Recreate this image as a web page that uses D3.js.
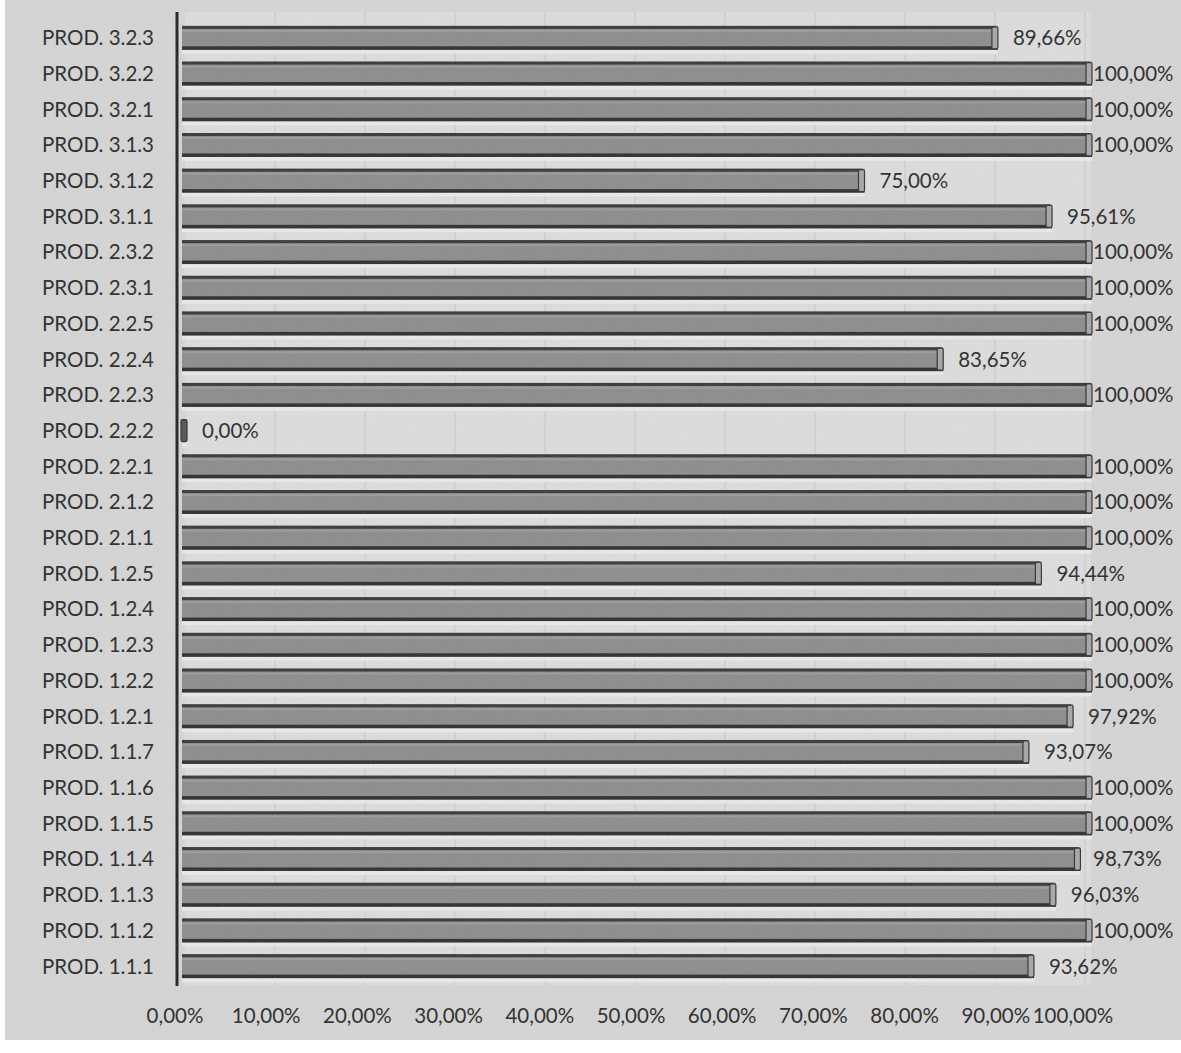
<!DOCTYPE html>
<html>
<head>
<meta charset="utf-8">
<script src="https://cdn.jsdelivr.net/npm/d3@7/dist/d3.min.js"></script>
<style>
  html, body { margin: 0; padding: 0; background: #ffffff; }
  svg { display: block; }
  text { font-family: Lato, "Open Sans", sans-serif; fill: #262626; }
</style>
</head>
<body>
<svg id="chart" width="1181" height="1053"></svg>
<script>
// ---- data (top of chart first) ----
const categories = [
  "PROD. 3.2.3", "PROD. 3.2.2", "PROD. 3.2.1", "PROD. 3.1.3", "PROD. 3.1.2", "PROD. 3.1.1",
  "PROD. 2.3.2", "PROD. 2.3.1", "PROD. 2.2.5", "PROD. 2.2.4", "PROD. 2.2.3", "PROD. 2.2.2",
  "PROD. 2.2.1", "PROD. 2.1.2", "PROD. 2.1.1", "PROD. 1.2.5", "PROD. 1.2.4", "PROD. 1.2.3",
  "PROD. 1.2.2", "PROD. 1.2.1", "PROD. 1.1.7", "PROD. 1.1.6", "PROD. 1.1.5", "PROD. 1.1.4",
  "PROD. 1.1.3", "PROD. 1.1.2", "PROD. 1.1.1"
];
const values = [
  89.66, 100, 100, 100, 75.00, 95.61,
  100, 100, 100, 83.65, 100, 0.00,
  100, 100, 100, 94.44, 100, 100,
  100, 97.92, 93.07, 100, 100, 98.73,
  96.03, 100, 93.62
];
const tickValues = [0, 10, 20, 30, 40, 50, 60, 70, 80, 90, 100];

const fmt = v => v.toFixed(2).replace(".", ",") + "%";

const svg = d3.select("#chart");
const W = 1181, H = 1053;
const FS = 20.5;

// noise filter for scanned look
const defs = svg.append("defs");
const f = defs.append("filter").attr("id", "noise").attr("x", 0).attr("y", 0).attr("width", "100%").attr("height", "100%");
f.append("feTurbulence").attr("type", "fractalNoise").attr("baseFrequency", 0.9).attr("numOctaves", 2).attr("seed", 3);
f.append("feColorMatrix").attr("type", "matrix")
  .attr("values", "0 0 0 0 0.5  0 0 0 0 0.5  0 0 0 0 0.5  0 0 0 0.35 0");

// background
svg.append("rect").attr("x", 0).attr("y", 0).attr("width", W).attr("height", H).attr("fill", "#ffffff");
svg.append("rect").attr("x", 5).attr("y", 0).attr("width", W - 5).attr("height", 1040).attr("fill", "#d6d6d6");

// scales
const xBar = d3.scaleLinear().domain([0, 100]).range([182, 1092]);
const xGrid = d3.scaleLinear().domain([0, 100]).range([185, 1085]);
const xTick = d3.scaleLinear().domain([0, 100]).range([175, 1087]);
const y = d3.scaleBand().domain(categories).range([20, 984]).paddingInner(0.33).paddingOuter(0.165);

// plot back wall
svg.append("rect").attr("x", xGrid(0)).attr("y", 12).attr("width", xGrid(100) - xGrid(0) + 6)
  .attr("height", 973).attr("fill", "#dedede");

// gridlines
svg.append("g").selectAll("line").data(tickValues.slice(1)).join("line")
  .attr("x1", d => xGrid(d)).attr("x2", d => xGrid(d))
  .attr("y1", 12).attr("y2", 985)
  .attr("stroke", "#c8c8c8").attr("stroke-width", 1);

// bars
const bars = svg.append("g").selectAll("g").data(categories).join("g")
  .attr("transform", d => `translate(0,${y(d)})`);
const bh = y.bandwidth();

bars.each(function(d, i) {
  const g = d3.select(this);
  const v = values[i];
  const x0 = xBar(0);
  const x1 = Math.max(xBar(v), x0 + 5);
  // light band under bar
  g.append("rect").attr("x", x0).attr("y", bh).attr("width", x1 - x0).attr("height", 4).attr("fill", "#ebebeb");
  if (v > 0) {
    g.append("rect").attr("x", x0).attr("y", 0).attr("width", x1 - x0).attr("height", bh)
      .attr("fill", "#8b8b8b");
    g.append("rect").attr("x", x0).attr("y", 0).attr("width", x1 - x0 - 2).attr("height", 3)
      .attr("fill", "#343434");
    g.append("rect").attr("x", x0).attr("y", 4).attr("width", x1 - x0 - 6).attr("height", 2)
      .attr("fill", "#9a9a9a");
    g.append("rect").attr("x", x0).attr("y", bh - 3.5).attr("width", x1 - x0).attr("height", 3.5)
      .attr("fill", "#2a2a2a");
  }
  g.append("rect").attr("x", x1 - 6).attr("y", 1).attr("width", 6).attr("height", bh - 2)
    .attr("rx", 1.5)
    .attr("fill", v > 0 ? "#a6a6a6" : "#505050").attr("stroke", "#2e2e2e").attr("stroke-width", 1.2);
  const lx = Math.min(x1 + 15, 1093);
  g.append("text").attr("x", lx).attr("y", bh / 2).attr("dy", "0.36em")
    .attr("font-size", FS).text(fmt(v));
});

// vertical axis line
svg.append("line").attr("x1", 177).attr("x2", 177).attr("y1", 12).attr("y2", 986)
  .attr("stroke", "#1e1e1e").attr("stroke-width", 3);

// category labels
svg.append("g").selectAll("text").data(categories).join("text")
  .attr("x", 154).attr("y", d => y(d) + bh / 2).attr("dy", "0.36em")
  .attr("text-anchor", "end").attr("font-size", FS).text(d => d);

// x tick labels
svg.append("g").selectAll("text").data(tickValues).join("text")
  .attr("x", d => d === 100 ? xTick(d) - 14 : xTick(d))
  .attr("y", 1023).attr("text-anchor", "middle").attr("font-size", FS)
  .text(d => fmt(d));

// scan noise overlay
svg.append("rect").attr("x", 5).attr("y", 0).attr("width", W - 5).attr("height", 1040)
  .attr("filter", "url(#noise)").attr("opacity", 0.5).style("pointer-events", "none");
</script>
</body>
</html>
